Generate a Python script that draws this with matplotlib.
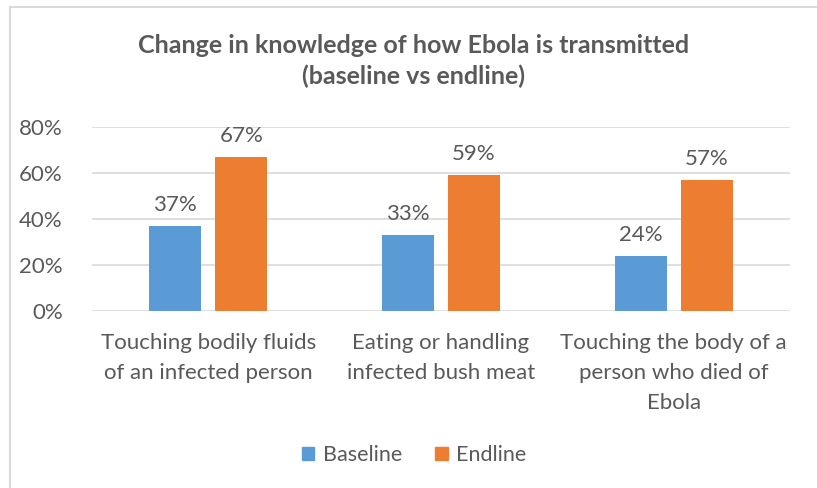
import matplotlib.pyplot as plt
import numpy as np
from matplotlib.lines import Line2D

plt.rcParams['font.family'] = ['Lato', 'DejaVu Sans']

categories = ["Touching bodily fluids\nof an infected person",
              "Eating or handling\ninfected bush meat",
              "Touching the body of a\nperson who died of\nEbola"]
baseline = [0.37, 0.33, 0.24]
endline = [0.67, 0.59, 0.57]
series_names = ["Baseline", "Endline"]
yticks = [0, 0.2, 0.4, 0.6, 0.8]

blue = "#5B9BD5"
orange = "#ED7D31"
grey_txt = "#595959"

fig = plt.figure(figsize=(8.17, 4.88), dpi=100)
ax = fig.add_axes([92/817, 177/488, 698/817, 184/488])

x = np.arange(len(categories))
w = 0.224
off = 0.142
b1 = ax.bar(x - off, baseline, w, color=blue, label=series_names[0], zorder=3)
b2 = ax.bar(x + off, endline, w, color=orange, label=series_names[1], zorder=3)

for bars, vals in ((b1, baseline), (b2, endline)):
    for r, v in zip(bars, vals):
        ax.annotate("%d%%" % round(v*100), (r.get_x() + r.get_width()/2, v),
                    xytext=(0, 8), textcoords="offset points", ha="center", va="bottom",
                    fontsize=16, color=grey_txt)

ax.set_xlim(-0.5, 2.5)
ax.set_ylim(0, 0.8)
ax.set_yticks(yticks)
ax.set_yticklabels(["%d%%" % round(t*100) for t in yticks])
ax.set_xticks(x)
ax.set_xticklabels(categories, linespacing=1.62, va="top")
ax.tick_params(axis="both", length=0, labelsize=16, labelcolor=grey_txt)
ax.tick_params(axis="y", pad=21)
ax.tick_params(axis="x", pad=16)
ax.grid(axis="y", color="#d9d9d9", lw=1.2, zorder=0)
for s in ax.spines.values():
    s.set_visible(False)

fig.text(414/817, 1 - 61/488, "Change in knowledge of how Ebola is transmitted\n(baseline vs endline)",
         ha="center", va="center", fontsize=18, fontweight="bold", color=grey_txt, linespacing=1.35)

handles = [plt.Rectangle((0, 0), 1, 1, color=blue), plt.Rectangle((0, 0), 1, 1, color=orange)]
fig.legend(handles, series_names, loc="center", bbox_to_anchor=(414/817, 1 - 455/488), ncol=2,
           frameon=False, fontsize=15.5, labelcolor=grey_txt, handlelength=0.6, handleheight=0.6,
           handletextpad=0.4, columnspacing=1.5)

# chart border
fig.add_artist(Line2D([10/817, 1], [1 - 7/488, 1 - 7/488], color="#d9d9d9", lw=1.5))
fig.add_artist(Line2D([10/817, 10/817], [0, 1 - 7/488], color="#d9d9d9", lw=1.5))

fig.savefig("out.png", dpi=100)
